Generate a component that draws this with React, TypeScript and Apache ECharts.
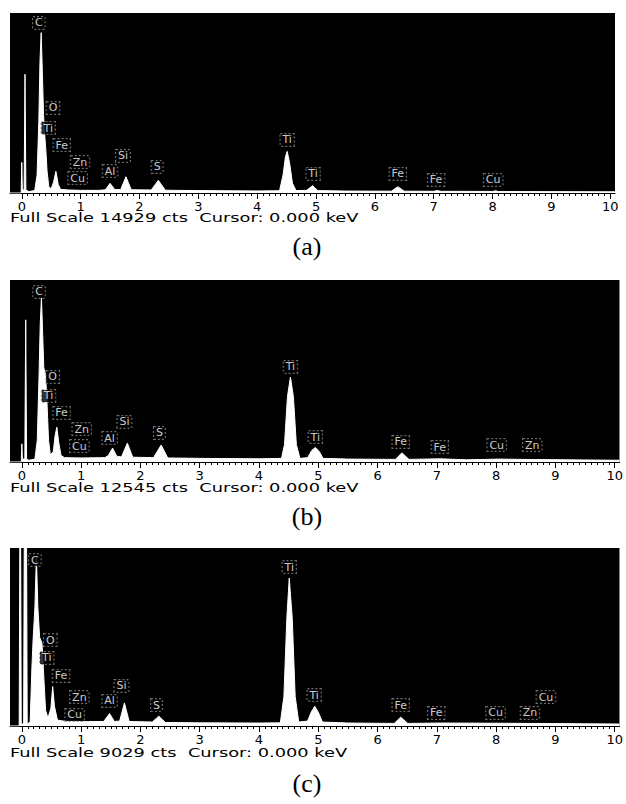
import React, { useEffect, useRef } from "react";
import * as echarts from "echarts";

// ---- data ----
const KEV_TICKS = [0, 1, 2, 3, 4, 5, 6, 7, 8, 9, 10];
const MINOR_TICKS = Array.from({ length: 101 }, (_, i) => i / 10);
const FULL_SCALE = [14929, 12545, 9029];
const CAPTIONS = ["(a)", "(b)", "(c)"];

// spectrum (a): [keV, counts]
const SPEC_A: [number, number][] = [
  [-0.2, 0], [-0.01, 0], [0.0, 2540], [0.01, 250], [0.04, 250], [0.055, 9850], [0.07, 250], [0.12, 120],
  [0.22, 200], [0.26, 1500], [0.29, 6000], [0.31, 11000], [0.33, 13300], [0.35, 10000], [0.37, 6500],
  [0.39, 4800], [0.41, 3500], [0.43, 1800], [0.46, 500], [0.5, 350], [0.54, 900], [0.58, 1800],
  [0.62, 700], [0.66, 300], [0.8, 250], [1.0, 220], [1.3, 220], [1.42, 260], [1.5, 800], [1.58, 280],
  [1.68, 280], [1.77, 1350], [1.86, 270], [2.2, 250], [2.32, 1050], [2.44, 230], [3.0, 200], [4.0, 170],
  [4.38, 190], [4.44, 1500], [4.48, 3000], [4.51, 3450], [4.55, 2500], [4.6, 800], [4.66, 200],
  [4.84, 220], [4.94, 600], [5.03, 200], [5.5, 160], [6.28, 150], [6.39, 520], [6.5, 150], [7.0, 140],
  [7.06, 200], [7.12, 140], [8.0, 130], [8.05, 180], [8.1, 120], [10.08, 100],
];

// spectrum (b)
const SPEC_B: [number, number][] = [
  [-0.2, 0], [-0.01, 0], [0.0, 1250], [0.01, 200], [0.05, 200], [0.065, 9800], [0.08, 200], [0.12, 120],
  [0.22, 200], [0.26, 1500], [0.29, 6000], [0.31, 9500], [0.33, 11300], [0.35, 9000], [0.37, 6500],
  [0.4, 6000], [0.42, 4500], [0.45, 1500], [0.48, 500], [0.53, 700], [0.56, 1800], [0.59, 2400],
  [0.62, 1400], [0.66, 450], [0.72, 300], [1.0, 280], [1.4, 300], [1.46, 450], [1.53, 960], [1.6, 400],
  [1.68, 350], [1.78, 1300], [1.87, 330], [2.22, 300], [2.35, 1170], [2.46, 280], [3.0, 250], [4.0, 220],
  [4.38, 250], [4.43, 1200], [4.48, 4500], [4.53, 5860], [4.58, 4500], [4.63, 1200], [4.69, 250],
  [4.82, 300], [4.89, 800], [4.95, 1000], [5.02, 700], [5.08, 250], [5.5, 200], [6.3, 180], [6.41, 630],
  [6.53, 180], [7.06, 220], [7.5, 150], [8.05, 200], [8.64, 170], [10.08, 120],
];

// spectrum (c)
const SPEC_C: [number, number][] = [
  [-0.2, 0], [-0.045, 0], [-0.035, 9029], [-0.02, 9029], [-0.01, 100], [0.03, 100], [0.04, 9029],
  [0.08, 9029], [0.09, 100], [0.14, 200], [0.17, 3000], [0.19, 4400], [0.22, 6000], [0.245, 8600],
  [0.27, 6000], [0.3, 4500], [0.34, 4200], [0.37, 2500], [0.4, 800], [0.44, 400], [0.49, 900],
  [0.52, 2000], [0.55, 1000], [0.6, 300], [0.7, 250], [1.0, 220], [1.38, 230], [1.48, 630], [1.56, 230],
  [1.65, 250], [1.73, 1170], [1.81, 230], [2.2, 200], [2.31, 500], [2.42, 180], [3.0, 160], [4.0, 150],
  [4.36, 160], [4.42, 1500], [4.47, 5500], [4.51, 7500], [4.56, 5500], [4.61, 1500], [4.67, 200],
  [4.82, 250], [4.88, 700], [4.94, 1000], [5.0, 700], [5.07, 200], [5.5, 150], [6.28, 130], [6.39, 450],
  [6.51, 130], [7.06, 150], [8.05, 140], [10.08, 100],
];

// element labels: [element, keV, counts]
const LABELS_A: [string, number, number][] = [
  ["C", 0.29, 14100], ["O", 0.53, 7050], ["Ti", 0.45, 5390], ["Fe", 0.68, 3980], ["Zn", 0.99, 2570],
  ["Cu", 0.95, 1240], ["Al", 1.5, 1820], ["Si", 1.72, 3070], ["S", 2.3, 2160], ["Ti", 4.51, 4400],
  ["Ti", 4.95, 1580], ["Fe", 6.39, 1580], ["Fe", 7.04, 1080], ["Cu", 8.01, 1080],
];
const LABELS_B: [string, number, number][] = [
  ["C", 0.29, 11720], ["O", 0.52, 5860], ["Ti", 0.45, 4550], ["Fe", 0.67, 3380], ["Zn", 1.01, 2270],
  ["Cu", 0.97, 1100], ["Al", 1.48, 1650], ["Si", 1.73, 2760], ["S", 2.32, 2000], ["Ti", 4.53, 6550],
  ["Ti", 4.95, 1720], ["Fe", 6.39, 1380], ["Fe", 7.05, 1030], ["Cu", 8.01, 1170], ["Zn", 8.61, 1170],
];
const LABELS_C: [string, number, number][] = [
  ["C", 0.22, 8420], ["O", 0.48, 4360], ["Ti", 0.42, 3450], ["Fe", 0.66, 2540], ["Zn", 0.97, 1470],
  ["Cu", 0.89, 560], ["Al", 1.48, 1270], ["Si", 1.68, 2030], ["S", 2.27, 1060], ["Ti", 4.51, 8060],
  ["Ti", 4.93, 1570], ["Fe", 6.39, 1060], ["Fe", 6.99, 660], ["Cu", 7.99, 660], ["Zn", 8.57, 660],
  ["Cu", 8.84, 1470],
];

const SPECTRA = [SPEC_A, SPEC_B, SPEC_C];
const LABELS = [LABELS_A, LABELS_B, LABELS_C];

// ---- layout ----
const LAYOUT = [
  { top: 13, height: 180, width: 605, textY: 218, capY: 246 },
  { top: 280, height: 182, width: 613, textY: 488, capY: 516 },
  { top: 548, height: 178, width: 612, textY: 753, capY: 783 },
];
const X_MIN = -0.2;
const X_MAX = 10.08;

export default function App() {
  const ref = useRef<HTMLDivElement | null>(null);

  useEffect(() => {
    if (!ref.current) return;
    const chart = echarts.init(ref.current, undefined, { renderer: "svg" });

    const grid = LAYOUT.map((l) => ({
      left: 10,
      top: l.top,
      width: l.width,
      height: l.height,
      show: true,
      backgroundColor: "#000",
      borderWidth: 0,
      containLabel: false,
    }));

    const majorAxes = LAYOUT.map((_, i) => ({
      type: "value",
      gridIndex: i,
      position: "bottom",
      offset: 0,
      min: X_MIN,
      max: X_MAX,
      axisLine: { show: true, onZero: false, lineStyle: { color: "#000", width: 1 } },
      axisTick: { show: true, customValues: KEV_TICKS, length: 6, lineStyle: { color: "#000", width: 1 } },
      axisLabel: {
        show: true,
        customValues: KEV_TICKS,
        color: "#000",
        fontFamily: "DejaVu Sans",
        fontSize: 13,
        margin: 7,
      },
      splitLine: { show: false },
    }));

    const minorAxes = LAYOUT.map((_, i) => ({
      type: "value",
      gridIndex: i,
      position: "bottom",
      offset: 0,
      min: X_MIN,
      max: X_MAX,
      axisLine: { show: false },
      axisTick: { show: true, customValues: MINOR_TICKS, length: 3, lineStyle: { color: "#000", width: 1 } },
      axisLabel: { show: false },
      splitLine: { show: false },
    }));

    const yAxes = LAYOUT.map((_, i) => ({
      type: "value",
      gridIndex: i,
      min: 0,
      max: FULL_SCALE[i],
      show: false,
      splitLine: { show: false },
    }));

    const lineSeries = SPECTRA.map((spec, i) => ({
      type: "line",
      xAxisIndex: i,
      yAxisIndex: i,
      data: spec,
      symbol: "none",
      showSymbol: false,
      clip: true,
      silent: true,
      lineStyle: { color: "#fff", width: 1 },
      areaStyle: { color: "#fff", opacity: 1 },
    }));

    const labelSeries = LABELS.map((labels, i) => ({
      type: "scatter",
      xAxisIndex: i,
      yAxisIndex: i,
      data: labels.map((l) => ({ name: l[0], value: [l[1], l[2]] })),
      symbolSize: 1,
      itemStyle: { color: "transparent" },
      silent: true,
      z: 5,
      label: {
        show: true,
        position: "inside",
        formatter: "{b}",
        color: "#fff",
        fontFamily: "DejaVu Sans",
        fontSize: 11,
        backgroundColor: "#000",
        borderColor: "#8a8a8a",
        borderWidth: 1,
        borderType: "dotted",
        padding: [1, 2, 0, 2],
      },
    }));

    const graphic = LAYOUT.flatMap((l, i) => [
      {
        type: "text",
        x: 10,
        y: l.textY,
        scaleX: 1.37,
        style: {
          text: `Full Scale ${FULL_SCALE[i]} cts  Cursor: 0.000 keV`,
          fill: "#000",
          font: '13px "DejaVu Sans"',
          align: "left",
          verticalAlign: "middle",
          textAlign: "left",
          textVerticalAlign: "middle",
        },
      },
      {
        type: "text",
        x: 307,
        y: l.capY,
        style: {
          text: CAPTIONS[i],
          fill: "#000",
          font: '26px "Liberation Serif"',
          align: "center",
          verticalAlign: "middle",
          textAlign: "center",
          textVerticalAlign: "middle",
        },
      },
    ]);

    chart.setOption({
      animation: false,
      backgroundColor: "#fff",
      grid,
      xAxis: [...majorAxes, ...minorAxes],
      yAxis: yAxes,
      series: [...lineSeries, ...labelSeries],
      graphic,
    } as any);

    return () => {
      chart.dispose();
    };
  }, []);

  return (
    <div
      ref={ref}
      style={{ position: "absolute", left: 0, top: 0, width: 626, height: 804, background: "#fff" }}
    />
  );
}
